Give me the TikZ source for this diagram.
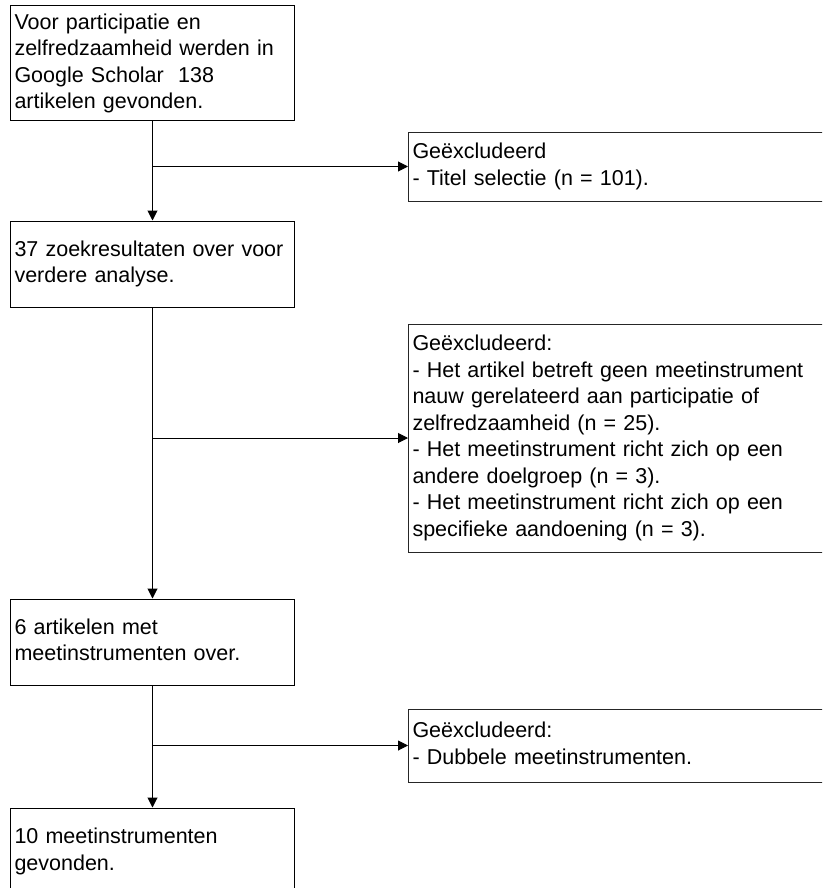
\documentclass[tikz,border=0pt]{standalone}
\usepackage{fontspec}
\setmainfont{Liberation Sans}
\usetikzlibrary{arrows.meta}
\newcommand\Lbox[1]{\mbox{\strut #1}}
\begin{document}
\begin{tikzpicture}[x=1pt,y=-1pt,
  every node/.style={font=\fontsize{21.5}{26.5}\selectfont},
  leftbox/.style={draw=black, line width=1pt, rectangle, inner xsep=4pt, inner ysep=0pt,
     text width=276pt, align=left, minimum width=284pt},
  rightbox/.style={draw=black!85, line width=1pt, rectangle, inner xsep=4pt, inner ysep=0pt,
     text width=422pt, align=left, minimum width=430pt, anchor=west},
  arr/.style={line width=1pt, -{Triangle[length=10pt,width=10pt]}}]
\useasboundingbox (0,0) rectangle (822,888);
\clip (0,0) rectangle (822,888);
\fill[white] (0,0) rectangle (822,888);

\node[leftbox, minimum height=115pt] (b1) at (152.5,63.5)
  {\Lbox{Voor participatie en}\\\Lbox{zelfredzaamheid werden in}\\\Lbox{Google Scholar\ \ 138}\\\Lbox{artikelen gevonden.}};
\node[leftbox, minimum height=86pt] (b2) at (152.5,264)
  {\Lbox{37 zoekresultaten over voor}\\\Lbox{verdere analyse.}};
\node[leftbox, minimum height=86pt] (b3) at (152.5,642)
  {\Lbox{6 artikelen met}\\\Lbox{meetinstrumenten over.}};
\node[leftbox, minimum height=87pt] (b4) at (152.5,851.5)
  {\Lbox{10 meetinstrumenten}\\\Lbox{gevonden.}};

\node[rightbox, minimum height=69pt] (r1) at (408,166.5)
  {\Lbox{Geëxcludeerd}\\\Lbox{- Titel selectie (n = 101).}};
\node[rightbox, minimum height=228pt] (r2) at (408,438)
  {\Lbox{Geëxcludeerd:}\\\Lbox{- Het artikel betreft geen meetinstrument}\\\Lbox{nauw gerelateerd aan participatie of}\\\Lbox{zelfredzaamheid (n = 25).}\\\Lbox{- Het meetinstrument richt zich op een}\\\Lbox{andere doelgroep (n = 3).}\\\Lbox{- Het meetinstrument richt zich op een}\\\Lbox{specifieke aandoening (n = 3).}};
\node[rightbox, minimum height=73pt] (r3) at (408,745.5)
  {\Lbox{Geëxcludeerd:}\\\Lbox{- Dubbele meetinstrumenten.}};

\draw[arr] (b1) -- (b2);
\draw[arr] (b2) -- (b3);
\draw[arr] (b3) -- (b4);

\coordinate (j1) at (b1.south |- r1.west);
\coordinate (j2) at (b2.south |- r2.west);
\coordinate (j3) at (b3.south |- r3.west);
\draw[arr] (j1) -- (r1.west);
\draw[arr] (j2) -- (r2.west);
\draw[arr] (j3) -- (r3.west);
\end{tikzpicture}
\end{document}
